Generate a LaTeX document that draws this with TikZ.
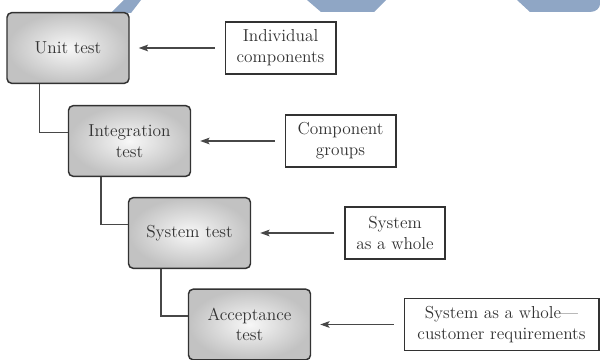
\documentclass[tikz,border=0pt]{standalone}
\usepackage{tikz}
\usetikzlibrary{calc,arrows.meta}
\definecolor{wmblue}{RGB}{143,166,197}
\definecolor{inkgray}{RGB}{50,50,50}

\begin{document}
\begin{tikzpicture}[>={Stealth[length=7pt,width=5pt,inset=1.5pt]},x=0.75pt,y=-0.75pt,
    testbox/.style={draw=inkgray,line width=1.1pt,rounded corners=3.5pt,inner color=gray!6,outer color=gray!48,
        minimum width=91.5pt,minimum height=53pt,align=center,text=inkgray,font=\fontsize{13}{15.5}\selectfont},
    inbox/.style={draw=inkgray,line width=1pt,fill=white,minimum height=39pt,align=center,text=inkgray,
        font=\fontsize{13}{15.5}\selectfont},
    link/.style={draw=inkgray!90,line width=0.95pt}]
    \useasboundingbox[fill=white] (0,0) rectangle (600,360);
    %%%%%%%%%%%%%%%%%%%%%%%%%%%%%%%%%%%%%%%%%% watermark
    \fill[wmblue] (111,13)--(124,0)--(141,0)--(131,13)--cycle;
    \fill[wmblue] (307,0)--(321,12)--(374,12)--(386,0)--cycle;
    \fill[wmblue] (517,0)--(530,12)--(590,12) .. controls (596,12) and (600,8) .. (600,4)--(600,0)--cycle;
    %%%%%%%%%%%%%%%%%%%%%%%%%%%%%%%%%%%%%%%%%% test stages
    \foreach \n/\x/\y/\t in {unit/68/48/{Unit test},integ/129.5/141/{Integration\\test},system/189.5/233/{System test},accept/249.5/324.5/{Acceptance\\test}}
    {
        \node[testbox] (\n) at (\x,\y) {\t};
    }
    %%%%%%%%%%%%%%%%%%%%%%%%%%%%%%%%%%%%%%%%%% what goes in
    \foreach \n/\x/\y/\w/\t in {indiv/280.5/48/83/{Individual\\components},groups/340.5/141/83/{Component\\groups},whole/395/233/75/{System\\as a whole},cust/501.5/324.5/146/{System as a whole---\\customer requirements}}
    {
        \node[inbox,minimum width=\w pt] (\n) at (\x,\y) {\t};
    }
    \foreach \a/\b in {indiv/unit,groups/integ,whole/system,cust/accept}
    {
        \draw[link,->,shorten >=6.75pt,shorten <=7.5pt] (\a) -- (\b);
    }
    \foreach \a/\b in {unit/integ,integ/system,system/accept}
    {
        \draw[link] ([xshift=25pt]\a.south west) |- ([yshift=6.4pt]\b.west);
    }
\end{tikzpicture}
\end{document}
